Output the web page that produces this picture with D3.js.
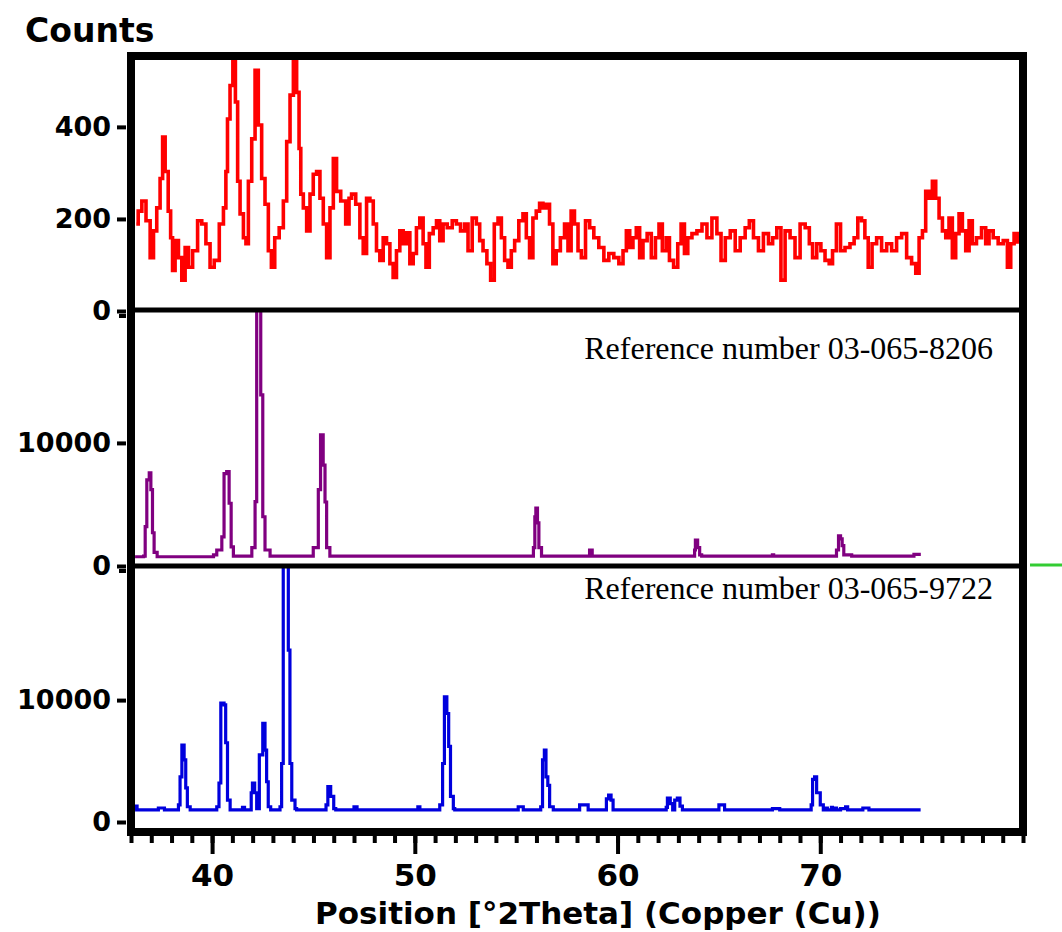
<!DOCTYPE html>
<html>
<head>
<meta charset="utf-8">
<script src="https://cdn.jsdelivr.net/npm/d3@7"></script>
<style>
  body { margin: 0; background: #fff; }
  svg { display: block; }
  .axis path.domain { display: none; }
  .axis line { stroke: #000; stroke-width: 4; }
  .axis text { font-family: "DejaVu Sans", sans-serif; font-weight: bold; fill: #000; }
</style>
</head>
<body>
<div id="chart"></div>
<script>
const redTheta = [36.26, 36.45, 36.62, 36.86, 37.03, 37.19, 37.35, 37.52, 37.60, 37.77, 37.90, 38.01, 38.09, 38.26, 38.42, 38.59, 38.75, 38.92, 39.16, 39.41, 39.57, 39.82, 39.98, 40.23, 40.48, 40.64, 40.72, 40.80, 40.97, 41.08, 41.22, 41.30, 41.46, 41.63, 41.71, 41.87, 42.04, 42.20, 42.36, 42.53, 42.69, 42.86, 42.99, 43.19, 43.43, 43.60, 43.76, 43.93, 44.09, 44.25, 44.33, 44.42, 44.58, 44.75, 44.91, 45.07, 45.24, 45.40, 45.57, 45.73, 45.90, 46.06, 46.22, 46.47, 46.71, 46.80, 46.96, 47.21, 47.37, 47.54, 47.70, 47.87, 48.03, 48.19, 48.36, 48.52, 48.69, 48.85, 49.01, 49.18, 49.34, 49.51, 49.67, 49.84, 50.00, 50.16, 50.33, 50.49, 50.61, 50.82, 50.99, 51.15, 51.31, 51.48, 51.72, 51.97, 52.13, 52.38, 52.54, 52.71, 52.95, 53.12, 53.28, 53.45, 53.66, 53.82, 54.02, 54.19, 54.35, 54.51, 54.68, 54.84, 55.01, 55.25, 55.42, 55.58, 55.74, 55.91, 56.07, 56.24, 56.40, 56.56, 56.73, 56.89, 57.06, 57.30, 57.47, 57.64, 57.78, 57.97, 58.13, 58.30, 58.54, 58.71, 58.95, 59.20, 59.45, 59.69, 59.94, 60.19, 60.35, 60.52, 60.68, 60.84, 61.01, 61.17, 61.34, 61.58, 61.75, 61.99, 62.10, 62.32, 62.48, 62.64, 62.89, 63.05, 63.22, 63.38, 63.55, 63.79, 64.04, 64.29, 64.53, 64.78, 65.02, 65.19, 65.44, 65.68, 65.93, 66.17, 66.42, 66.58, 66.83, 67.07, 67.32, 67.57, 67.73, 67.98, 68.14, 68.39, 68.63, 68.88, 69.13, 69.38, 69.54, 69.70, 69.95, 70.11, 70.36, 70.52, 70.69, 70.90, 71.10, 71.34, 71.59, 71.75, 71.95, 72.12, 72.28, 72.45, 72.66, 72.90, 73.15, 73.40, 73.64, 73.89, 74.14, 74.38, 74.63, 74.79, 74.96, 75.12, 75.28, 75.45, 75.61, 75.78, 75.94, 76.11, 76.27, 76.43, 76.60, 76.76, 76.93, 77.09, 77.26, 77.42, 77.58, 77.83, 78.08, 78.24, 78.41, 78.65, 78.90, 79.15, 79.31, 79.48, 79.64, 79.80];
const redCounts = [189, 217, 239, 196, 116, 174, 224, 288, 378, 303, 217, 159, 88, 153, 116, 67, 138, 95, 131, 196, 189, 146, 95, 110, 189, 224, 303, 417, 490, 560, 454, 282, 211, 159, 146, 282, 374, 523, 404, 288, 232, 131, 95, 159, 181, 239, 368, 469, 560, 475, 353, 254, 224, 174, 254, 297, 303, 245, 189, 116, 224, 331, 260, 239, 189, 245, 254, 232, 159, 125, 245, 239, 189, 131, 110, 159, 146, 103, 73, 131, 174, 146, 170, 103, 125, 181, 202, 146, 95, 168, 181, 196, 153, 189, 181, 196, 189, 174, 189, 131, 202, 189, 153, 131, 103, 67, 189, 202, 159, 110, 95, 131, 153, 196, 211, 159, 116, 202, 217, 234, 224, 232, 189, 103, 131, 159, 189, 131, 217, 189, 131, 116, 196, 181, 159, 138, 110, 125, 116, 103, 131, 174, 138, 159, 181, 116, 153, 168, 116, 159, 189, 131, 159, 110, 95, 146, 189, 125, 159, 168, 174, 189, 159, 202, 168, 110, 159, 174, 131, 159, 181, 196, 159, 131, 168, 146, 159, 181, 67, 174, 159, 116, 189, 181, 146, 116, 146, 131, 110, 103, 131, 189, 131, 138, 146, 159, 202, 196, 159, 95, 146, 159, 131, 146, 131, 159, 168, 116, 103, 82, 159, 174, 260, 245, 282, 245, 202, 174, 159, 202, 116, 168, 211, 174, 131, 196, 146, 159, 181, 146, 174, 159, 146, 153, 95, 146, 168, 150];

// reference pattern 03-065-8206 (purple)
const purpleTheta = [36.20, 36.62, 36.70, 36.78, 36.90, 36.98, 37.06, 37.14, 37.29, 40.07, 40.23, 40.48, 40.59, 40.72, 40.84, 40.94, 41.05, 41.85, 41.96, 42.12, 42.20, 42.33, 42.40, 42.50, 42.61, 42.86, 44.74, 44.99, 45.24, 45.35, 45.48, 45.57, 45.65, 45.81, 55.75, 55.85, 55.92, 55.97, 56.05, 56.12, 56.25, 58.50, 58.62, 58.75, 63.70, 63.80, 63.84, 63.95, 64.05, 64.15, 67.64, 67.70, 70.75, 70.80, 70.90, 71.00, 71.08, 71.16, 71.40, 71.55, 74.55, 74.62, 74.96];
const purpleCounts = [750, 800, 3200, 7000, 7560, 6200, 2700, 1100, 750, 900, 1300, 2360, 7500, 7670, 5100, 1550, 800, 800, 1500, 5230, 22000, 22000, 13900, 4000, 1300, 800, 800, 1500, 6200, 10650, 8200, 5200, 1500, 800, 800, 1500, 4000, 4700, 3500, 1500, 800, 800, 1300, 800, 800, 1300, 2100, 1500, 900, 800, 900, 800, 800, 1300, 2440, 2200, 1650, 900, 900, 800, 800, 950, 950];

// reference pattern 03-065-9722 (blue)
const blueTheta = [36.20, 36.25, 36.30, 37.30, 37.35, 37.60, 37.65, 38.30, 38.34, 38.42, 38.51, 38.62, 38.70, 38.78, 38.92, 40.15, 40.23, 40.34, 40.43, 40.59, 40.67, 40.76, 40.89, 41.45, 41.50, 41.60, 41.90, 41.93, 41.99, 42.10, 42.20, 42.28, 42.33, 42.50, 42.61, 42.69, 42.77, 42.89, 43.30, 43.35, 43.43, 43.51, 43.68, 43.76, 43.84, 43.93, 44.09, 44.17, 45.55, 45.62, 45.71, 45.85, 46.00, 46.10, 46.95, 47.00, 47.15, 50.10, 50.15, 50.25, 51.20, 51.23, 51.37, 51.46, 51.58, 51.67, 51.76, 51.90, 51.97, 55.05, 55.10, 55.30, 55.35, 56.15, 56.21, 56.30, 56.39, 56.47, 56.56, 56.65, 56.83, 58.05, 58.13, 58.45, 58.55, 59.40, 59.45, 59.56, 59.68, 59.78, 62.35, 62.40, 62.46, 62.60, 62.72, 62.82, 62.95, 63.08, 63.20, 64.95, 65.00, 65.20, 65.28, 67.64, 67.95, 68.00, 69.50, 69.55, 69.62, 69.72, 69.82, 69.92, 70.00, 70.15, 70.30, 70.35, 70.55, 70.60, 70.75, 70.80, 71.00, 71.25, 71.35, 72.05, 72.10, 72.35, 72.40, 74.95];
const blueCounts = [1000, 1300, 1000, 1000, 1150, 1150, 1000, 1000, 1400, 3700, 6300, 5100, 2800, 1250, 1000, 1000, 1250, 3200, 9750, 9600, 6500, 1800, 1000, 1000, 1200, 1000, 1000, 2400, 3200, 2400, 1100, 1100, 5500, 8100, 5900, 3300, 1250, 1000, 1000, 1250, 4800, 22000, 22000, 14100, 4800, 1800, 1100, 1000, 1000, 1400, 2900, 2100, 1100, 1000, 1000, 1250, 1000, 1000, 1250, 1000, 1000, 1400, 4800, 10270, 8900, 6200, 2100, 1100, 1000, 1000, 1250, 1250, 1000, 1000, 1250, 5100, 5900, 3700, 3000, 1250, 1000, 1000, 1400, 1400, 1000, 1000, 1900, 2200, 1800, 1000, 1000, 1200, 1960, 1500, 1000, 1800, 1960, 1300, 1000, 1000, 1400, 1400, 1000, 1100, 1100, 1000, 1000, 1400, 3500, 3700, 2400, 2400, 1400, 1000, 1150, 1000, 1200, 1000, 1150, 1000, 1100, 1250, 1000, 1000, 1150, 1150, 1000, 1000];

const thetaDomain = [36, 80];
const majorTicks = [40, 50, 60, 70];
const minorTicks = d3.range(36, 81, 1);
const sampleTicks = [0, 200, 400];
const refTicks = [0, 10000];
const refLabels = ["Reference number 03-065-8206", "Reference number 03-065-9722"];
const yTitle = "Counts";
const xTitle = "Position [°2Theta] (Copper (Cu))";

const width = 1062, height = 932;
const frame = { left: 131, right: 1023, top: 56, bottom: 832 };

const svg = d3.select("#chart").append("svg")
  .attr("width", width)
  .attr("height", height);

const x = d3.scaleLinear().domain(thetaDomain).range([frame.left, frame.right]);

// three stacked panels, each with its own count scale
const panels = [
  { theta: redTheta, counts: redCounts, color: "#ff0000", width: 3.6, curve: d3.curveStep, top: 56, bottom: 310, zeroY: 311, max: 554, ticks: sampleTicks },
  { theta: purpleTheta, counts: purpleCounts, color: "#800080", width: 3.2, curve: d3.curveStepAfter, top: 310, bottom: 566, zeroY: 566, max: 20800, ticks: refTicks, label: refLabels[0], labelY: 359 },
  { theta: blueTheta, counts: blueCounts, color: "#0000dd", width: 3.2, curve: d3.curveStepAfter, top: 566, bottom: 832, zeroY: 822, max: 21000, ticks: refTicks, label: refLabels[1], labelY: 599 }
];

panels.forEach((p, i) => {
  const y = d3.scaleLinear().domain([0, p.max]).range([p.zeroY, p.top]);

  svg.append("clipPath")
    .attr("id", "clip" + i)
    .append("rect")
    .attr("x", frame.left)
    .attr("y", p.top)
    .attr("width", frame.right - frame.left)
    .attr("height", p.bottom - p.top);

  const pts = p.theta.map((t, k) => [t, p.counts[k]]);

  svg.append("path")
    .datum(pts)
    .attr("clip-path", `url(#clip${i})`)
    .attr("fill", "none")
    .attr("stroke", p.color)
    .attr("stroke-width", p.width)
    .attr("stroke-linejoin", "miter")
    .attr("d", d3.line()
      .curve(p.curve)
      .x(d => x(d[0]))
      .y(d => y(d[1])));

  const axis = svg.append("g")
    .attr("class", "axis")
    .attr("transform", `translate(${frame.left - 5},0)`)
    .call(d3.axisLeft(y).tickValues(p.ticks).tickSize(9).tickPadding(6).tickFormat(d3.format("d")));
  axis.selectAll("text").style("font-size", "27px");

  // the little double mark next to each zero
  if (i < 2) {
    axis.append("line")
      .attr("x1", -7).attr("x2", 0)
      .attr("y1", y(0) + 5).attr("y2", y(0) + 5);
  }

  if (p.label) {
    svg.append("text")
      .attr("x", 993)
      .attr("y", p.labelY)
      .attr("text-anchor", "end")
      .style("font-family", "'Liberation Serif', 'Times New Roman', serif")
      .style("font-size", "32px")
      .text(p.label);
  }
});

// frame and separators
svg.append("rect")
  .attr("x", frame.left)
  .attr("y", frame.top)
  .attr("width", frame.right - frame.left)
  .attr("height", frame.bottom - frame.top)
  .attr("fill", "none")
  .attr("stroke", "#000")
  .attr("stroke-width", 8);

[panels[0].bottom, panels[1].bottom].forEach(yy => {
  svg.append("line")
    .attr("x1", frame.left).attr("x2", frame.right)
    .attr("y1", yy).attr("y2", yy)
    .attr("stroke", "#000")
    .attr("stroke-width", 5);
});

// x axis: minor ticks each degree, labelled every 10
svg.append("g")
  .attr("class", "axis")
  .attr("transform", `translate(0,${frame.bottom + 4})`)
  .call(d3.axisBottom(x).tickValues(minorTicks).tickSize(7).tickFormat(""));

const xAxis = svg.append("g")
  .attr("class", "axis")
  .attr("transform", `translate(0,${frame.bottom + 4})`)
  .call(d3.axisBottom(x).tickValues(majorTicks).tickSize(18).tickPadding(10).tickFormat(d3.format("d")));
xAxis.selectAll("text").style("font-size", "31px");

svg.append("text")
  .attr("x", 598)
  .attr("y", 924)
  .attr("text-anchor", "middle")
  .style("font-family", "'DejaVu Sans', sans-serif")
  .style("font-weight", "bold")
  .style("font-size", "31px")
  .text(xTitle);

svg.append("text")
  .attr("x", 25)
  .attr("y", 42)
  .style("font-family", "'DejaVu Sans', sans-serif")
  .style("font-weight", "bold")
  .style("font-size", "33px")
  .text(yTitle);

// stray green marker at the right edge
svg.append("line")
  .attr("x1", 1030).attr("x2", 1062)
  .attr("y1", 565).attr("y2", 565)
  .attr("stroke", "#33cc33")
  .attr("stroke-width", 3);

console.log("[XRD] panels drawn:", panels.length);
</script>
</body>
</html>
